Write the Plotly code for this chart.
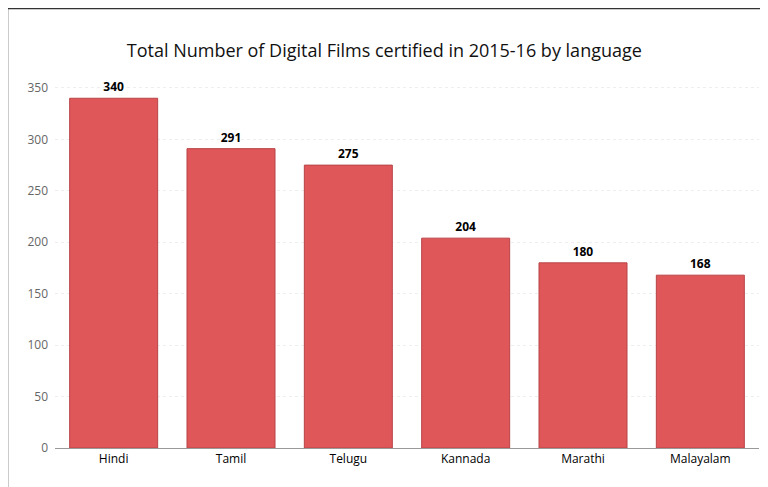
import plotly.graph_objects as go

languages = ["Hindi", "Tamil", "Telugu", "Kannada", "Marathi", "Malayalam"]
films = [340, 291, 275, 204, 180, 168]

fig = go.Figure(
    go.Bar(
        x=languages,
        y=films,
        text=["<b>%d</b>" % v for v in films],
        textposition="outside",
        textfont=dict(color="black", size=12, family="Open Sans"),
        marker=dict(color="#E0575A", line=dict(color="#B84447", width=1)),
        width=0.75,
        cliponaxis=False,
    )
)

fig.update_layout(
    title=dict(
        text="Total Number of Digital Films certified in 2015-16 by language",
        x=0.49, xanchor="center", y=0.925,
        font=dict(size=18, color="#111", family="Open Sans"),
    ),
    width=768, height=487,
    paper_bgcolor="white", plot_bgcolor="white",
    margin=dict(l=47, r=17, t=67, b=47),
    font=dict(family="Open Sans", color="#555"),
    showlegend=False,
    xaxis=dict(showline=True, linecolor="#999", automargin=False,
               tickfont=dict(size=12, color="black", family="Open Sans")),
    yaxis=dict(
        range=[0, 362.6], dtick=50, showgrid=True, gridcolor="#eeeeee", griddash="dot",
        zeroline=False, automargin=False, tickfont=dict(size=12, color="#666"), ticklabelstandoff=6,
    ),
    shapes=[dict(type="rect", xref="paper", yref="paper",
                 x0=-47.5 / 704, x1=(767 - 47) / 704, y0=-46 / 373, y1=(440 - 0.5) / 373,
                 line=dict(color="#333", width=1.5))],
)

fig.write_html("out.html")
